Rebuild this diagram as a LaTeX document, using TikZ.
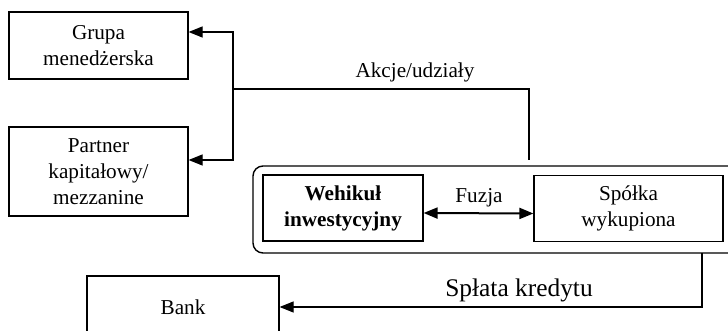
\documentclass[tikz,border=0pt]{standalone}
\usepackage{fontspec}
\setmainfont{Liberation Serif}
\usetikzlibrary{arrows.meta}

\begin{document}
\begin{tikzpicture}[
  x=0.5pt, y=-0.5pt,
  box/.style={rectangle, draw, line width=0.6pt, align=center, inner sep=0pt, font=\fontsize{10.6}{13}\selectfont},
  group/.style={line width=0.7pt, rounded corners=5pt},
  lbl/.style={anchor=base, inner sep=0pt, font=\fontsize{10.6}{13}\selectfont},
  line/.style={line width=0.6pt},
  arrow/.style={line width=0.6pt, -{Triangle[length=7pt, width=5.5pt]}},
  biarrow/.style={line width=1pt, {Triangle[length=7pt, width=5.5pt]}-{Triangle[length=7pt, width=5.5pt]}},
]
\useasboundingbox (0,0) rectangle (728,331);

% === left side: recipients of shares ===
\node[box, minimum width=89.5pt, minimum height=33.5pt] (grupa) at (98.5,45.5) {Grupa\\menedżerska};
\node[box, minimum width=89.5pt, minimum height=44.5pt] (partner) at (98.5,171.5) {Partner\\kapitałowy/\\mezzanine};

% === merger group (runs off the right edge) ===
\coordinate (gr-nw) at (253,166);
\coordinate (gr-sw) at (253,253);
\draw[group] (740,166) -- (gr-nw) -- (gr-sw) -- (740,253);
\node[box, minimum width=80pt, minimum height=33pt, font=\fontsize{10.6}{13}\selectfont\bfseries] (wehikul) at (343,208) {Wehikuł\\inwestycyjny};
\node[box, minimum width=94.5pt, minimum height=33pt] (spolka) at (628.5,208.5) {Spółka\\wykupiona};

% === bank ===
\node[box, minimum width=96pt, minimum height=31pt] (bank) at (183,307) {Bank};

% === shares ===
\coordinate (akcje) at (529,160);
\coordinate (rozdzial) at (233,89);
\draw[line] (akcje) -- (akcje |- rozdzial) -- (rozdzial);
\draw[arrow] (rozdzial) |- ([yshift=6.75pt]grupa.east);
\draw[arrow] (rozdzial) |- ([yshift=5.75pt]partner.east);
\node[lbl] (akcjelbl) at (415,78) {Akcje/udziały};

% === merger ===
\draw[biarrow] ([yshift=-2.5pt]wehikul.east) -- ([yshift=-2.5pt]spolka.west);
\node[lbl] (fuzjalbl) at (479,203) {Fuzja};

% === loan repayment ===
\coordinate (splata) at (702,253);
\draw[arrow] (splata) |- (bank.east);
\node[lbl, font=\fontsize{12.7}{15}\selectfont] (splatalbl) at (519,297) {Spłata kredytu};

\end{tikzpicture}
\end{document}
